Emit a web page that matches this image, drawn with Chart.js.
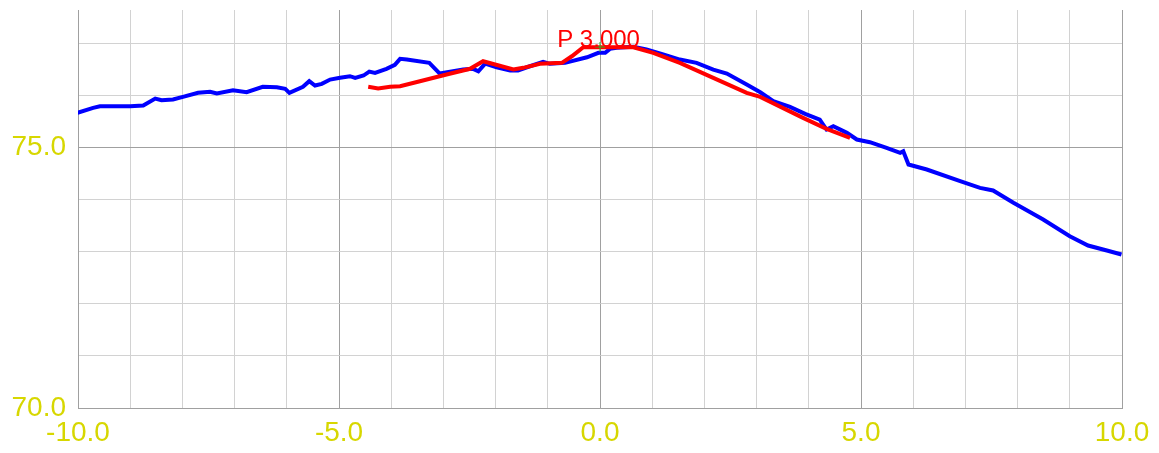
<!DOCTYPE html>
<html>
<head>
<meta charset="utf-8">
<script src="https://cdn.jsdelivr.net/npm/chart.js@4"></script>
<style>
html,body{margin:0;padding:0;background:#fff;}
#wrap{width:1159px;height:453px;}
</style>
</head>
<body>
<div id="wrap"><canvas id="c" width="1159" height="453"></canvas></div>
<script>
// Blue series (measured profile)
const blueX = [-10.01,-9.71,-9.58,-9.00,-8.75,-8.52,-8.40,-8.18,-7.99,-7.70,-7.47,-7.34,-7.03,-6.77,-6.46,-6.19,-6.03,-5.95,-5.69,-5.57,-5.46,-5.33,-5.17,-4.98,-4.79,-4.69,-4.53,-4.42,-4.31,-4.09,-3.93,-3.83,-3.70,-3.27,-3.07,-2.62,-2.43,-2.33,-2.20,-1.98,-1.72,-1.57,-1.40,-1.09,-0.96,-0.67,-0.25,-0.03,0.10,0.19,0.32,0.64,0.89,1.21,1.53,1.85,2.17,2.43,2.81,3.07,3.32,3.64,3.93,4.21,4.34,4.47,4.73,4.92,5.17,5.49,5.75,5.81,5.91,6.26,6.90,7.28,7.53,7.92,8.49,9.00,9.35,9.71,9.99];
const blueY = [75.666,75.762,75.793,75.793,75.806,75.940,75.908,75.921,75.973,76.050,76.069,76.036,76.100,76.061,76.165,76.157,76.127,76.050,76.165,76.273,76.190,76.223,76.305,76.338,76.369,76.338,76.382,76.459,76.434,76.511,76.587,76.702,76.689,76.626,76.420,76.497,76.511,76.465,76.612,76.541,76.478,76.478,76.541,76.645,76.607,76.626,76.733,76.818,76.818,76.894,76.914,76.933,76.881,76.785,76.689,76.626,76.497,76.420,76.209,76.061,75.889,75.781,75.647,75.537,75.345,75.409,75.282,75.154,75.102,74.994,74.898,74.929,74.674,74.578,74.353,74.226,74.175,73.939,73.618,73.297,73.119,73.023,72.946];
// Red series (design profile)
const redX = [-4.44,-4.25,-4.02,-3.83,-3.45,-2.94,-2.49,-2.24,-1.66,-1.47,-1.15,-0.73,-0.54,-0.32,0.64,1.02,1.53,2.17,2.81,3.07,3.89,4.34,4.79];
const redY = [76.165,76.132,76.165,76.177,76.273,76.401,76.511,76.656,76.497,76.530,76.607,76.626,76.752,76.925,76.925,76.818,76.626,76.338,76.050,75.973,75.570,75.359,75.186];
// Marker and its label
const markerX = [0.0];
const markerY = [76.93];
const labelText = "P 3.000";
const labelX = -0.82;
const labelY = 76.93;
// Axis ranges / ticks
const xMin = -10, xMax = 10, xStep = 1, xLabelEvery = 5;
const yMin = 70, yMax = 77.64, yStep = 1, yLabelEvery = 5;

const toPts = (xs, ys) => xs.map((x, i) => ({x: x, y: ys[i]}));

const labelPlugin = {
  id: 'pointLabel',
  afterDatasetsDraw(chart) {
    const {ctx, scales} = chart;
    ctx.save();
    ctx.font = '24px "Liberation Sans", Arial, sans-serif';
    ctx.fillStyle = '#ff0000';
    ctx.textAlign = 'left';
    ctx.textBaseline = 'alphabetic';
    ctx.fillText(labelText, scales.x.getPixelForValue(labelX), scales.y.getPixelForValue(labelY));
    ctx.restore();
  }
};

const gridColor = (c) => {
  const v = c.tick.value;
  if (Math.abs(v - Math.round(v)) > 1e-6) return 'rgba(0,0,0,0)';
  return (Math.round(v) % 5 === 0) ? '#a0a0a0' : '#d2d2d2';
};

new Chart(document.getElementById('c'), {
  type: 'line',
  data: {
    datasets: [
      {data: toPts(markerX, markerY), type: 'scatter', order: -1, pointStyle: 'cross', pointRadius: 5, borderColor: '#22bb22', borderWidth: 1, showLine: false},
      {data: toPts(redX, redY), order: 0, borderColor: '#ff0000', borderWidth: 4, pointRadius: 0, tension: 0, fill: false},
      {data: toPts(blueX, blueY), order: 1, borderColor: '#0000ff', borderWidth: 4, pointRadius: 0, tension: 0, fill: false}
    ]
  },
  options: {
    responsive: false,
    animation: false,
    events: [],
    layout: {padding: {top: 10, right: 37, left: 0, bottom: 0}},
    plugins: {legend: {display: false}, tooltip: {enabled: false}},
    scales: {
      x: {
        type: 'linear', min: xMin, max: xMax,
        afterFit(s) { s.height = 45; s.paddingLeft = 0; s.paddingRight = 0; },
        border: {display: true, color: '#a0a0a0', width: 1},
        grid: {color: gridColor, drawTicks: false, lineWidth: 1},
        ticks: {
          stepSize: xStep, autoSkip: false, maxRotation: 0, padding: 8,
          color: '#d7d700',
          font: {family: '"Liberation Sans", Arial, sans-serif', size: 28},
          callback: (v) => (Math.abs(v % xLabelEvery) < 1e-6 ? Number(v).toFixed(1) : '')
        }
      },
      y: {
        type: 'linear', min: yMin, max: yMax,
        afterFit(s) { s.width = 78; s.paddingTop = 0; s.paddingBottom = 0; },
        border: {display: true, color: '#a0a0a0', width: 1},
        grid: {color: gridColor, drawTicks: false, lineWidth: 1},
        ticks: {
          stepSize: yStep, autoSkip: false, padding: 12,
          color: '#d7d700',
          font: {family: '"Liberation Sans", Arial, sans-serif', size: 28},
          callback: (v) => (Math.abs(v % yLabelEvery) < 1e-6 ? Number(v).toFixed(1) : '')
        }
      }
    }
  },
  plugins: [labelPlugin]
});
</script>
</body>
</html>
